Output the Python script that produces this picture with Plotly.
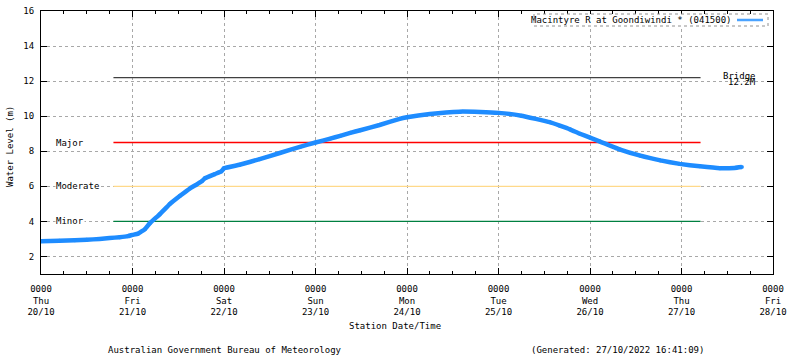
import plotly.graph_objects as go
from datetime import datetime, timedelta

# ---- data ----
t0 = datetime(2022, 10, 20)
obs_days = [0.0, 0.2, 0.37, 0.5, 0.64, 0.75, 0.86, 0.95, 1.0, 1.06, 1.137, 1.19, 1.30, 1.41,
            1.52, 1.63, 1.70, 1.76, 1.79, 1.90, 1.97, 2.0, 2.17, 2.39, 2.61, 2.83, 3.0,
            3.16, 3.27, 3.38, 3.49, 3.70, 3.92, 4.0, 4.25, 4.58, 4.8, 5.0, 5.25, 5.56,
            5.67, 5.78, 5.89, 6.0, 6.11, 6.33, 6.55, 6.77, 6.98, 7.2, 7.42, 7.58, 7.66]
obs_level = [2.87, 2.9, 2.92, 2.95, 3.0, 3.05, 3.1, 3.16, 3.23, 3.3, 3.56, 3.9, 4.42, 5.0,
             5.46, 5.89, 6.1, 6.3, 6.46, 6.7, 6.85, 7.03, 7.23, 7.55, 7.9, 8.25, 8.5,
             8.72, 8.88, 9.05, 9.2, 9.5, 9.85, 9.94, 10.13, 10.26, 10.24, 10.19, 10.03, 9.66,
             9.46, 9.25, 9.0, 8.78, 8.55, 8.1, 7.75, 7.48, 7.28, 7.14, 7.03, 7.05, 7.1]

thr_names = ["Bridge", "Major", "Moderate", "Minor"]
thr_levels = [12.2, 8.5, 6.0, 4.0]
thr_colors = ["#404040", "#ff0000", "#ffd98a", "#008040"]
thr_start = "2022-10-20 19:00"
thr_end = "2022-10-27 05:00"

day_ticks = ["2022-10-%02d" % d for d in range(20, 29)]
day_labels = ["0000<br>Thu<br>20/10", "0000<br>Fri<br>21/10", "0000<br>Sat<br>22/10",
              "0000<br>Sun<br>23/10", "0000<br>Mon<br>24/10", "0000<br>Tue<br>25/10",
              "0000<br>Wed<br>26/10", "0000<br>Thu<br>27/10", "0000<br>Fri<br>28/10"]
y_ticks = [2, 4, 6, 8, 10, 12, 14, 16]

series_name = "Macintyre R at Goondiwindi * (041500)"

obs_time = [t0 + timedelta(days=d) for d in obs_days]

FONT = "DejaVu Sans Mono"
fig = go.Figure()

for name, lev, col in zip(thr_names, thr_levels, thr_colors):
    fig.add_trace(go.Scatter(x=[thr_start, thr_end], y=[lev, lev], mode="lines",
                             line=dict(color=col, width=1.3), showlegend=False,
                             hoverinfo="skip"))

fig.add_trace(go.Scatter(x=obs_time, y=obs_level, mode="lines+markers", name=series_name,
                         line=dict(color="#1e8cff", width=4.5, shape="spline", smoothing=0.3),
                         marker=dict(size=4, color="#1e8cff"), showlegend=False))

W, H = 800, 358
L, R, T, B = 41, 773, 11, 274


def px(y):
    return 1 - (y - T) / (B - T)


def pxx(x):
    return (x - L) / (R - L)


ann = []
for name, lev in zip(thr_names[1:], thr_levels[1:]):
    ann.append(dict(x=pxx(55), xref="paper", y=lev, yref="y", text=name, showarrow=False,
                    xanchor="left", yanchor="middle", bgcolor="white", borderpad=0,
                    font=dict(family=FONT, size=9, color="black")))
ann.append(dict(x=pxx(758), xref="paper", y=12.2, yref="y", text="Bridge", showarrow=False,
                xanchor="right", yanchor="middle", yshift=2,
                font=dict(family=FONT, size=9, color="black")))
ann.append(dict(x=pxx(758), xref="paper", y=12.2, yref="y", text="12.2M", showarrow=False,
                xanchor="right", yanchor="middle", yshift=-4,
                font=dict(family=FONT, size=9, color="black")))
# legend text
ann.append(dict(x=pxx(733), xref="paper", y=px(20), yref="paper", text=series_name,
                showarrow=False, xanchor="right", yanchor="middle",
                font=dict(family=FONT, size=9, color="black")))
ann.append(dict(x=pxx(395), xref="paper", y=px(326), yref="paper", text="Station Date/Time",
                showarrow=False, xanchor="center", yanchor="middle",
                font=dict(family=FONT, size=9, color="black")))
ann.append(dict(x=pxx(225), xref="paper", y=px(350), yref="paper",
                text="Australian Government Bureau of Meteorology",
                showarrow=False, xanchor="center", yanchor="middle",
                font=dict(family=FONT, size=9, color="black")))
ann.append(dict(x=pxx(617), xref="paper", y=px(350), yref="paper",
                text="(Generated: 27/10/2022 16:41:09)",
                showarrow=False, xanchor="center", yanchor="middle",
                font=dict(family=FONT, size=9, color="black")))
ann.append(dict(x=pxx(10), xref="paper", y=px(147), yref="paper", text="Water Level (m)",
                showarrow=False, textangle=-90, xanchor="center", yanchor="middle",
                font=dict(family=FONT, size=9, color="black")))

shapes = [
    dict(type="rect", xref="paper", yref="paper", x0=pxx(534), x1=pxx(768), y0=px(26), y1=px(14),
         line=dict(color="#909090", width=1, dash="dot"), fillcolor="white", layer="above"),
    dict(type="line", xref="paper", yref="paper", x0=pxx(737), x1=pxx(763), y0=px(20), y1=px(20),
         line=dict(color="#4aa3ff", width=2.5), layer="above"),
]

fig.update_layout(
    width=W, height=H,
    margin=dict(l=L, r=W - R, t=T, b=H - B, autoexpand=False),
    paper_bgcolor="white", plot_bgcolor="white",
    font=dict(family=FONT, size=9, color="black"),
    annotations=ann, shapes=shapes, showlegend=False,
    xaxis=dict(type="date", range=["2022-10-20", "2022-10-28"], tickvals=day_ticks,
               ticktext=day_labels, ticks="inside", ticklen=6, tickcolor="black",
               showline=True, linecolor="black", linewidth=1, mirror="ticks",
               showgrid=True, gridcolor="#a8a8a8", griddash="dot", gridwidth=1,
               zeroline=False, ticklabelstandoff=6, automargin=False,
               minor=dict(dtick=6 * 3600 * 1000, ticks="inside", ticklen=3,
                          tickcolor="black", showgrid=False)),
    yaxis=dict(range=[1, 16], tickvals=y_ticks, ticks="inside", ticklen=6, tickcolor="black",
               showline=True, linecolor="black", linewidth=1, mirror="ticks",
               showgrid=True, gridcolor="#a8a8a8", griddash="dot", gridwidth=1,
               zeroline=False, ticklabelstandoff=4, automargin=False),
)

fig.write_html("out.html", config={"displayModeBar": False},
               post_script="document.body.style.margin='0';document.body.style.overflow='hidden';")
